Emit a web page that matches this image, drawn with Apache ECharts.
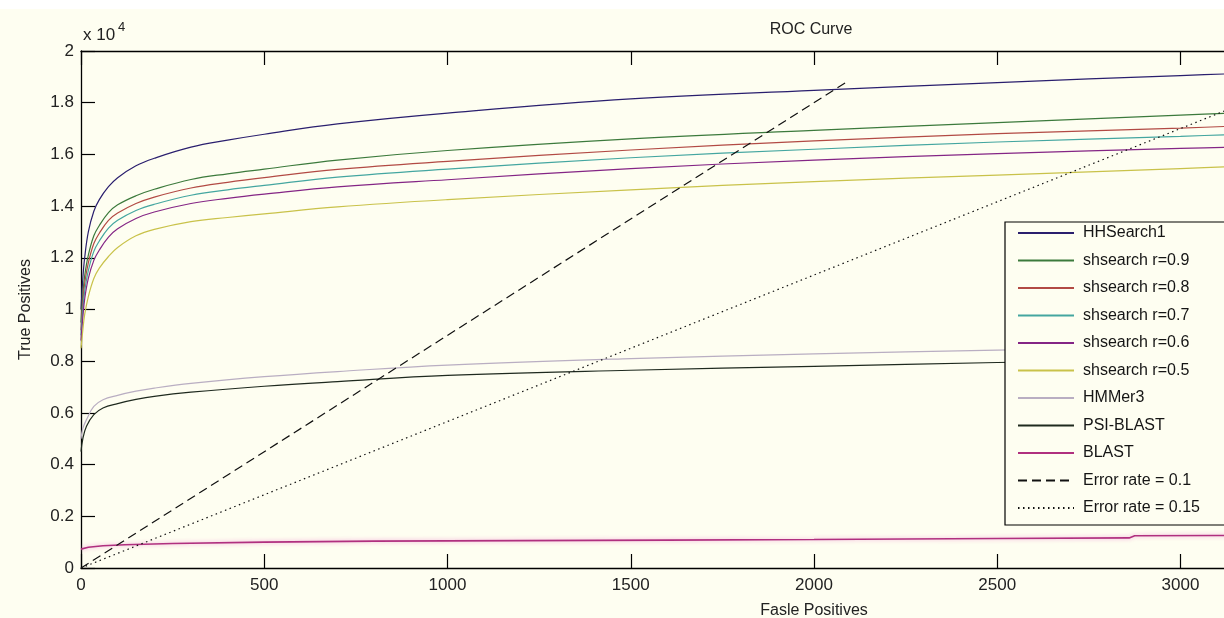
<!DOCTYPE html>
<html><head><meta charset="utf-8">
<script src="https://cdn.jsdelivr.net/npm/echarts@6/dist/echarts.min.js"></script>
<style>html,body{margin:0;padding:0;background:#fff}#c{width:1224px;height:618px}</style>
</head><body><div id="c"></div><script>
// ---- data (True Positives vs False Positives) ----
const fpA = [0, 5, 10, 20, 35, 50, 75, 100, 150, 200, 300, 400, 500, 700, 1000, 1500, 2000, 2500, 3000, 3200];
const hhsearch1 = [10000,11200,12000,13000,13800,14250,14750,15100,15560,15850,16280,16550,16780,17180,17600,18150,18480,18780,19050,19150];
const sh09 = [9500,10600,11300,12100,12850,13250,13750,14050,14400,14650,15030,15250,15430,15780,16150,16600,16930,17230,17520,17630];
const sh08 = [9200,10300,11000,11800,12550,12950,13450,13730,14100,14350,14700,14920,15100,15420,15730,16170,16520,16800,17020,17120];
const sh07 = [9000,10000,10700,11500,12250,12650,13150,13450,13830,14070,14420,14630,14800,15120,15430,15870,16200,16480,16700,16800];
const sh06 = [8800,9700,10400,11200,11900,12300,12800,13120,13520,13770,14100,14300,14460,14740,15020,15450,15780,16030,16230,16300];
const sh05 = [8500,9200,9800,10500,11200,11600,12050,12400,12850,13100,13400,13560,13700,13970,14250,14630,14950,15200,15450,15560];

const fpB = [0, 5, 15, 35, 60, 100, 150, 200, 300, 500, 700, 1000, 1500, 2000, 2500, 3000, 3200];
const hmmer3 = [5000,5400,5740,6250,6510,6680,6840,6960,7140,7400,7600,7850,8100,8280,8430,8550,8600];
const psiblast = [4500,5000,5480,5930,6190,6360,6520,6640,6800,7030,7210,7450,7650,7800,7950,8050,8100];

const fpC = [0, 20, 60, 120, 250, 500, 800, 1200, 1600, 2000, 2500, 2860, 2875, 3100, 3300];
const blast = [730, 800, 860, 900, 950, 1000, 1040, 1060, 1080, 1100, 1140, 1165, 1245, 1255, 1265];

const err10FP = [0, 2090];
const err10TP = [0, 18810];
const err15FP = [0, 3330];
const err15TP = [0, 18870];

const xTicks = { min: 0, max: 4000, step: 500 };
const yTicks = { min: 0, max: 20000, step: 2000, scale: 10000 };

const names = ['HHSearch1','shsearch r=0.9','shsearch r=0.8','shsearch r=0.7','shsearch r=0.6','shsearch r=0.5','HMMer3','PSI-BLAST','BLAST','Error rate = 0.1','Error rate = 0.15'];
const colors = ['#2a1f6e','#3c7a3c','#b24a44','#44a6a0','#842585','#c9c24a','#b9aec2','#1f2a1f','#b0307f','#111111','#111111'];

// ---- build ----
const zip = (xs, ys) => xs.map((x, i) => [x, ys[i]]);
const FONT = "'Liberation Sans', Arial, Helvetica, sans-serif";
const BG = '#fefef1';

function line(idx, xs, ys, extra) {
  return Object.assign({
    name: names[idx], type: 'line', data: zip(xs, ys), symbol: 'none',
    smooth: 0.4, color: colors[idx],
    lineStyle: { color: colors[idx], width: 1.2 }, emphasis: { disabled: true }, z: 2
  }, extra || {});
}

const series = [
  line(0, fpA, hhsearch1),
  line(1, fpA, sh09),
  line(2, fpA, sh08),
  line(3, fpA, sh07),
  line(4, fpA, sh06),
  line(5, fpA, sh05),
  line(6, fpB, hmmer3),
  line(7, fpB, psiblast),
  line(8, fpC, blast, { smooth: false, lineStyle: { color: colors[8], width: 1.6, shadowColor: 'rgba(240,150,210,0.9)', shadowBlur: 4 } }),
  line(9, err10FP, err10TP, { smooth: false, lineStyle: { color: colors[9], width: 1.2, type: [9, 5] } }),
  line(10, err15FP, err15TP, { smooth: false, lineStyle: { color: colors[10], width: 1.2, type: [1.5, 3.5] } })
];

const axisCommon = {
  type: 'value',
  axisLine: { show: true, onZero: false, lineStyle: { color: '#000', width: 1.3 } },
  axisTick: { show: true, inside: true, length: 14, lineStyle: { color: '#000', width: 1.2 } },
  splitLine: { show: false }
};

const chart = echarts.init(document.getElementById('c'), null, { renderer: 'canvas' });
chart.setOption({
  backgroundColor: BG,
  animation: false,
  textStyle: { fontFamily: FONT },
  grid: { left: 81, top: 51, width: 1466, height: 517, outerBoundsMode: 'none', containLabel: false },
  xAxis: [
    Object.assign({}, axisCommon, {
      position: 'bottom', min: xTicks.min, max: xTicks.max, interval: xTicks.step,
      axisLabel: { fontSize: 17, color: '#222', margin: 9, fontFamily: FONT, formatter: v => String(v) },
      name: 'Fasle Positives', nameLocation: 'middle', nameGap: 35,
      nameTextStyle: { fontSize: 16, color: '#222', fontFamily: FONT }
    }),
    Object.assign({}, axisCommon, {
      position: 'top', min: xTicks.min, max: xTicks.max, interval: xTicks.step,
      axisLabel: { show: false }
    })
  ],
  yAxis: [
    Object.assign({}, axisCommon, {
      position: 'left', min: yTicks.min, max: yTicks.max, interval: yTicks.step,
      axisLabel: { fontSize: 17, color: '#222', margin: 7, fontFamily: FONT,
        formatter: v => String(+(v / yTicks.scale).toFixed(1)) },
      name: 'True Positives', nameLocation: 'middle', nameGap: 47, nameRotate: 90,
      nameTextStyle: { fontSize: 16, color: '#222', fontFamily: FONT }
    })
  ],
  legend: {
    orient: 'vertical', left: 1005, top: 222,
    padding: [3, 30, 9, 12], itemWidth: 56, itemHeight: 14, itemGap: 11.5,
    backgroundColor: BG, borderColor: '#000', borderWidth: 1.2, borderRadius: 0,
    selectedMode: false,
    itemStyle: { opacity: 0, color: 'rgba(0,0,0,0)', borderWidth: 0 },
    textStyle: { fontSize: 16, color: '#151515', fontFamily: FONT, padding: [0, 0, 0, 4] },
    data: names
  },
  graphic: [
    { type: 'rect', shape: { x: 0, y: 0, width: 1224, height: 9 }, style: { fill: '#ffffff' }, silent: true, z: 100 },
    { type: 'text', x: 811, y: 30, style: { text: 'ROC Curve', font: '16px ' + FONT, fill: '#222', textAlign: 'center', textVerticalAlign: 'middle' }, silent: true },
    { type: 'text', x: 83, y: 35, style: { text: 'x 10', font: '17px ' + FONT, fill: '#222', textAlign: 'left', textVerticalAlign: 'middle' }, silent: true },
    { type: 'text', x: 118, y: 27, style: { text: '4', font: '13px ' + FONT, fill: '#222', textAlign: 'left', textVerticalAlign: 'middle' }, silent: true }
  ],
  series: series
});
</script></body></html>
